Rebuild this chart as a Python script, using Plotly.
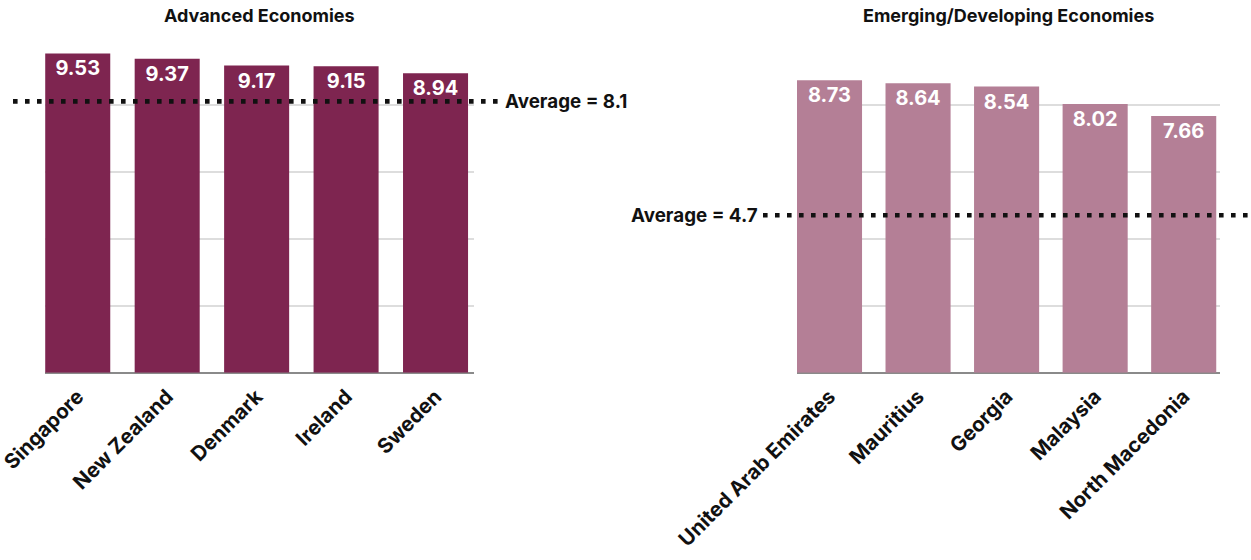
import plotly.graph_objects as go

# ---- data ----
adv_countries = ["Singapore", "New Zealand", "Denmark", "Ireland", "Sweden"]
adv_values = [9.53, 9.37, 9.17, 9.15, 8.94]
adv_average = 8.1

emg_countries = ["United Arab Emirates", "Mauritius", "Georgia", "Malaysia", "North Macedonia"]
emg_values = [8.73, 8.64, 8.54, 8.02, 7.66]
emg_average = 4.7

titles = ["Advanced Economies", "Emerging/Developing Economies"]
y_ticks = [0, 2, 4, 6, 8, 10]

# ---- style ----
W, H = 1251, 560
FONT = "Inter"
adv_color = "#7E2550"
emg_color = "#B47F96"
grid_color = "#DDDDDD"
base_color = "#8A8A8A"

def px_x(p):
    return p / W

def px_y(p):
    return 1 - p / H

fig = go.Figure()

fig.add_trace(go.Bar(
    x=adv_countries, y=adv_values, xaxis="x", yaxis="y",
    marker=dict(color=adv_color, line=dict(width=0)),
    width=0.727,
    text=[f"{v:.2f}" for v in adv_values],
    textposition="inside", insidetextanchor="end", textangle=0,
    textfont=dict(family=FONT, size=20, color="white", weight="bold"),
    hoverinfo="x+y", showlegend=False,
))
fig.add_trace(go.Bar(
    x=emg_countries, y=emg_values, xaxis="x2", yaxis="y2",
    marker=dict(color=emg_color, line=dict(width=0)),
    width=0.735,
    text=[f"{v:.2f}" for v in emg_values],
    textposition="inside", insidetextanchor="end", textangle=0,
    textfont=dict(family=FONT, size=20, color="white", weight="bold"),
    hoverinfo="x+y", showlegend=False,
))

ydom = [px_y(372.7), px_y(37.7)]
common_y = dict(
    range=[0, 10], tickvals=y_ticks, showticklabels=False,
    showgrid=True, gridcolor=grid_color, gridwidth=1.5,
    zeroline=True, zerolinecolor=base_color, zerolinewidth=1.5,
    showline=False, ticks="", fixedrange=True, domain=ydom, automargin=False,
)
common_x = dict(
    type="category", showgrid=False, zeroline=False, showline=False,
    ticks="", tickangle=-45, automargin=False, ticklabelstandoff=7,
    tickfont=dict(family=FONT, size=20.5, color="#111111", weight="bold"),
    fixedrange=True,
)

fig.update_layout(
    width=W, height=H,
    margin=dict(l=0, r=0, t=0, b=0),
    paper_bgcolor="white", plot_bgcolor="white",
    font=dict(family=FONT, color="#111111"),
    bargap=0.27,
    xaxis=dict(common_x, domain=[px_x(45), px_x(474)], range=[-0.366, 4.43], anchor="y"),
    yaxis=dict(common_y, anchor="x"),
    xaxis2=dict(common_x, domain=[px_x(797), px_x(1220)], range=[-0.367, 4.41], anchor="y2"),
    yaxis2=dict(common_y, anchor="x2"),
)

# titles
for xa, t in zip(["x", "x2"], titles):
    fig.add_annotation(
        text=t, xref=f"{xa} domain", x=0.5, yref="paper", y=px_y(15.5),
        xanchor="center", yanchor="middle", showarrow=False,
        font=dict(family=FONT, size=18, color="#111111", weight="bold"),
    )

# average lines
dot = dict(color="#111111", width=4.6, dash="4.6px,7.4px")
fig.add_shape(type="line", xref="paper", yref="y", x0=px_x(13), x1=px_x(499),
              y0=adv_average, y1=adv_average, line=dot, layer="above")
fig.add_shape(type="line", xref="paper", yref="y2", x0=px_x(763), x1=px_x(1251),
              y0=emg_average, y1=emg_average, line=dot, layer="above")

fig.add_annotation(
    text=f"Average = {adv_average}", xref="paper", x=px_x(503), yref="y", y=adv_average,
    xanchor="left", yanchor="middle", showarrow=False,
    font=dict(family=FONT, size=18.8, color="#111111", weight="bold"),
)
fig.add_annotation(
    text=f"Average = {emg_average}", xref="paper", x=px_x(760), yref="y2", y=emg_average,
    xanchor="right", yanchor="middle", showarrow=False,
    font=dict(family=FONT, size=18.8, color="#111111", weight="bold"),
)

fig.write_html("out.html")
